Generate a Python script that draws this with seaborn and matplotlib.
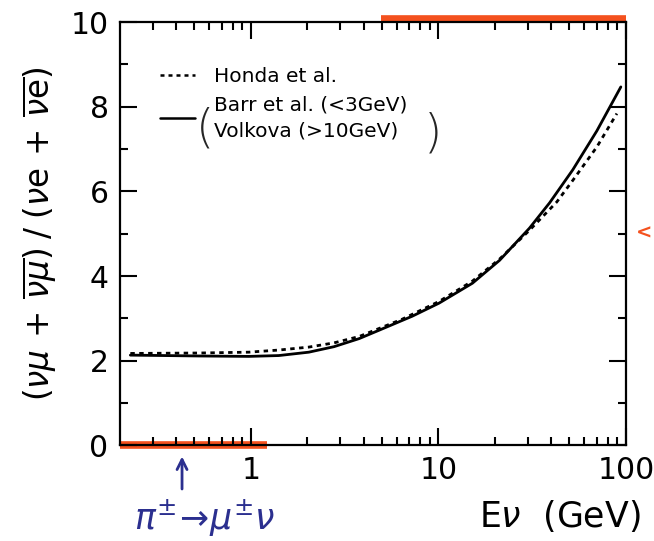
import seaborn as sns
import matplotlib.pyplot as plt
import pandas as pd
import numpy as np
from matplotlib.lines import Line2D
from matplotlib.ticker import FixedLocator, NullFormatter

#==========================================data===========================================#
# neutrino energy (GeV) and flux ratio
e_barr = [0.228, 0.527, 0.975, 1.41, 2.04, 2.78, 3.78, 4.84, 7.26, 10.1, 15.2, 21.2, 30.6, 39.2, 52.1, 70.0, 94.0]
r_barr = [2.13, 2.11, 2.10, 2.12, 2.20, 2.33, 2.52, 2.72, 3.05, 3.36, 3.83, 4.37, 5.13, 5.73, 6.51, 7.43, 8.47]
e_honda = [0.228, 0.527, 0.975, 1.41, 2.04, 2.78, 3.78, 6.42, 10.1, 15.2, 21.2, 30.6, 42.8, 52.1, 70.0, 89.5]
r_honda = [2.17, 2.18, 2.20, 2.25, 2.32, 2.42, 2.57, 2.98, 3.40, 3.88, 4.40, 5.08, 5.75, 6.26, 7.05, 7.84]

# hand-drawn marks on the scan
pen_bottom = [0.2, 1.22]
pen_top = [4.96, 100]
arrow_e = 0.43

df_barr = pd.DataFrame({'E': e_barr, 'ratio': r_barr})
df_honda = pd.DataFrame({'E': e_honda, 'ratio': r_honda})

sns.set_style('ticks')
plt.rcParams['font.family'] = ['DejaVu Sans']
plt.rcParams['mathtext.fontset'] = 'dejavusans'

fig = plt.figure(figsize=(6.54, 5.41), dpi=100)
ax = fig.add_axes([0.183, 0.177, 0.774, 0.782])

sns.lineplot(data=df_barr, x='E', y='ratio', ax=ax, color='black', lw=2.0)
sns.lineplot(data=df_honda, x='E', y='ratio', ax=ax, color='black', lw=2.0, linestyle=(0, (1.6, 1.6)))

ax.set_xscale('log')
ax.set_xlim(0.2, 100)
ax.set_ylim(0, 10)
ax.set_xticks([1, 10, 100])
ax.set_xticklabels(['1', '10', '100'])
ax.xaxis.set_minor_locator(FixedLocator([0.3, 0.4, 0.5, 0.6, 0.7, 0.8, 0.9] + list(range(2, 10)) + list(range(20, 100, 10))))
ax.xaxis.set_minor_formatter(NullFormatter())
ax.set_yticks([0, 2, 4, 6, 8, 10])
ax.yaxis.set_minor_locator(FixedLocator([1, 3, 5, 7, 9]))

ax.tick_params(which='both', direction='in', top=True, right=True, width=1.5, labelsize=21.5,
               pad=8, colors='black')
ax.tick_params(which='major', length=12)
ax.tick_params(which='minor', length=6)
for spine in ax.spines.values():
    spine.set_linewidth(1.6)
    spine.set_color('black')

ax.set_xlabel(r'E$\nu$  (GeV)', fontsize=25, loc='right', color='black')
ax.xaxis.set_label_coords(1.03, -0.125)
ax.set_ylabel(r'$(\nu\mu\,+\,\overline{\nu\mu})\;/\;(\nu\mathrm{e}\,+\,\overline{\nu\mathrm{e}})$',
              fontsize=23.5, labelpad=8, color='black')

# legend written inside the frame
handles = [Line2D([], [], color='black', lw=1.8, linestyle=(0, (1.6, 1.6))),
           Line2D([], [], color='black', lw=1.8)]
leg = ax.legend(handles, ['Honda et al.', 'Barr et al. (<3GeV)\nVolkova (>10GeV)'],
                loc='upper left', bbox_to_anchor=(0.079, 0.895), frameon=False, borderpad=0,
                borderaxespad=0, fontsize=14.5, handlelength=1.75, handletextpad=0.95,
                labelspacing=0.5)
for t in leg.get_texts():
    t.set_color('black')
    t.set_linespacing(1.45)
ax.text(0.150, 0.748, '(', transform=ax.transAxes, fontsize=34, va='center', ha='left', fontweight='light')
ax.text(0.600, 0.738, ')', transform=ax.transAxes, fontsize=34, va='center', ha='left', fontweight='light')

# pen marks
pen_red = '#f4511e'
ax.hlines(0, pen_bottom[0], pen_bottom[1], color=pen_red, lw=5.5, clip_on=False, zorder=0)
ax.hlines(10.08, pen_top[0], pen_top[1], color=pen_red, lw=5.5, clip_on=False, zorder=0)
fig.text(0.972, 0.57, '<', color=pen_red, fontsize=14, fontweight='bold', ha='left', va='center')
pen_blue = '#2b2f8f'
ax.annotate('', xy=(arrow_e, -0.2), xytext=(arrow_e, -1.1), annotation_clip=False,
            arrowprops=dict(arrowstyle='->', color=pen_blue, lw=2, mutation_scale=18))
fig.text(0.205, 0.004, r'$\pi^{\pm}\!\rightarrow\!\mu^{\pm}\nu$', color=pen_blue, fontsize=25,
         ha='left', va='bottom', style='italic')

fig.savefig('out.png', dpi=100)
